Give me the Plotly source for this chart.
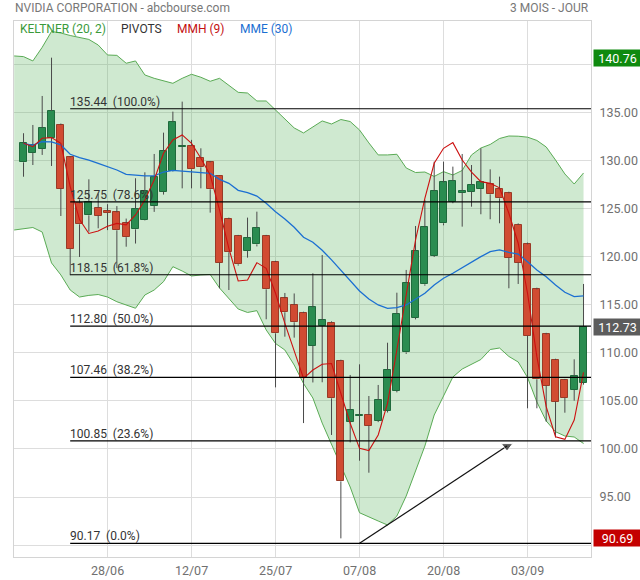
import plotly.graph_objects as go

# ---------------- data ----------------
tick_positions = [9, 18, 27, 36, 45, 54]
tick_labels = ["28/06", "12/07", "25/07", "07/08", "20/08", "03/09"]

opens = [129.86, 130.86, 131.28, 132.43, 133.75, 130.38, 125.59, 124.34, 125.14, 124.75,
         124.65, 123.50, 122.88, 123.82, 125.35, 126.80, 128.95, 131.50, 131.56, 130.31,
         129.86, 128.44, 123.96, 122.19, 120.66, 121.32, 122.19, 119.48, 115.70, 115.00,
         114.17, 110.76, 112.80, 113.16, 109.17, 102.85, 103.47, 103.54, 102.95, 103.96,
         106.07, 110.07, 113.68, 117.16, 120.14, 123.51, 125.73, 126.70, 126.80, 127.08,
         127.57, 127.05, 126.63, 123.33, 121.32, 116.63, 111.94, 109.27, 107.19, 106.15,
         106.90]
highs = [132.89, 133.75, 136.77, 140.76, 133.90, 130.50, 126.00, 128.09, 126.60, 125.50,
         125.30, 124.00, 128.20, 128.82, 130.73, 132.95, 135.14, 136.18, 132.20, 131.32,
         130.00, 128.50, 124.10, 122.30, 124.10, 124.72, 122.30, 119.60, 116.25, 116.20,
         114.30, 118.30, 120.21, 113.30, 109.30, 107.71, 108.82, 105.52, 106.67, 111.07,
         116.28, 118.65, 123.23, 125.94, 129.93, 129.93, 129.41, 130.73, 129.58, 131.32,
         129.13, 128.37, 126.80, 123.50, 121.50, 116.80, 112.10, 109.40, 107.30, 109.34,
         117.19]
lows = [128.36, 129.58, 130.63, 129.48, 124.27, 118.10, 120.00, 122.64, 122.99, 122.80,
        118.85, 121.07, 121.40, 123.78, 124.70, 126.50, 128.90, 127.15, 127.15, 127.15,
        124.62, 116.74, 116.56, 119.10, 119.93, 121.10, 113.51, 106.42, 111.70, 111.60,
        102.70, 106.93, 106.95, 101.46, 90.69, 100.69, 98.78, 97.53, 102.80, 103.80,
        105.90, 109.90, 113.50, 117.00, 120.00, 123.30, 125.60, 123.16, 125.24, 124.45,
        123.93, 123.51, 116.74, 117.19, 104.24, 104.24, 102.85, 101.20, 103.78, 105.03,
        106.70]
closes = [131.91, 131.67, 133.44, 135.21, 127.12, 120.87, 123.40, 125.76, 124.31, 124.60,
          122.78, 122.07, 125.00, 126.88, 128.30, 131.04, 134.05, 131.60, 129.13, 129.34,
          127.05, 119.41, 120.49, 119.24, 122.01, 123.02, 116.63, 112.05, 114.24, 113.20,
          107.36, 114.76, 113.44, 105.28, 96.63, 104.06, 103.50, 102.43, 105.10, 108.23,
          114.06, 117.29, 120.63, 123.09, 126.88, 127.77, 127.92, 126.88, 127.50, 127.85,
          126.53, 126.11, 119.93, 119.41, 111.80, 107.26, 106.60, 104.93, 105.35, 107.60,
          112.73]

# Keltner (20, 2) bands, starting one session before the first visible candle
keltner_start = -1
keltner_upper = [140.94, 140.87, 140.42, 141.84, 143.49, 143.33, 143.07, 142.86, 142.66, 142.08,
                 141.04, 141.00, 140.18, 140.42, 138.96, 138.61, 138.37, 138.09, 138.61, 139.03,
                 138.72, 138.30, 138.61, 137.92, 137.15, 137.08, 136.25, 136.25, 135.31, 134.38,
                 133.44, 132.92, 133.54, 134.17, 133.85, 134.32, 134.11, 133.23, 131.88, 130.63,
                 130.63, 130.70, 129.27, 128.80, 128.85, 128.39, 128.89, 128.54, 129.01, 130.63,
                 131.35, 131.72, 132.34, 132.60, 132.58, 132.48, 132.14, 131.46, 130.10, 128.65,
                 127.60, 128.75]
keltner_lower = [122.81, 122.97, 123.07, 122.60, 119.38, 118.13, 116.56, 115.83, 116.00, 116.09,
                 115.83, 115.34, 114.97, 114.66, 116.04, 116.56, 117.43, 118.99, 118.54, 118.02,
                 118.13, 118.18, 116.77, 115.73, 114.58, 114.22, 114.41, 112.40, 110.99, 110.31,
                 108.75, 106.82, 105.31, 102.70, 100.52, 98.33, 96.04, 93.36, 92.97, 92.50,
                 92.08, 93.02, 95.10, 97.81, 100.31, 103.54, 105.47, 107.50, 108.33, 108.80,
                 109.32, 110.36, 110.52, 109.64, 109.06, 107.45, 104.90, 102.92, 101.80, 101.35,
                 101.25, 100.57]

mmh9 = [131.84, 131.49, 132.36, 132.43, 131.84, 127.33, 123.90, 122.45, 122.70, 123.20,
        123.50, 123.35, 124.38, 125.94, 128.02, 130.80, 132.19, 132.71, 131.84, 130.28,
        128.54, 124.90, 120.90, 117.50, 117.60, 119.41, 118.82, 116.22, 113.09, 110.31,
        107.36, 108.23, 108.82, 108.90, 105.80, 102.68, 100.07, 99.83, 101.46, 104.76,
        110.31, 115.87, 121.77, 126.11, 129.76, 131.32, 131.91, 130.10, 128.85, 127.85,
        127.67, 127.20, 124.55, 121.43, 116.22, 109.62, 104.41, 101.28, 101.00, 103.02,
        107.99]
mme30 = [131.80, 131.65, 132.01, 132.00, 131.67, 130.70, 130.35, 130.10, 129.76, 129.41,
         129.06, 128.61, 128.50, 128.44, 128.44, 128.85, 129.02, 128.96, 128.89, 128.82,
         128.72, 128.09, 127.67, 126.94, 126.70, 126.35, 125.59, 124.72, 123.96, 123.09,
         122.05, 121.53, 120.70, 119.70, 118.65, 117.60, 116.46, 115.63, 115.00, 114.65,
         114.72, 115.00, 115.59, 116.22, 117.08, 117.78, 118.30, 118.89, 119.51, 120.03,
         120.55, 120.73, 120.49, 120.31, 119.51, 118.65, 117.95, 117.08, 116.32, 115.87,
         115.94]

fib_levels = [135.44, 125.75, 118.15, 112.80, 107.46, 100.85, 90.17]
fib_pcts = [100.0, 78.6, 61.8, 50.0, 38.2, 23.6, 0.0]
fib_start = 5

period_high = 140.76
last_price = 112.73
period_low = 90.69

arrow_x = [36, 51.8]
arrow_y = [90.17, 100.3]

grid_values = [90, 95, 100, 105, 110, 115, 120, 125, 130, 135, 140]
grid_labels = ["", "95.00", "100.00", "105.00", "110.00", "115.00", "120.00",
               "125.00", "130.00", "135.00", ""]

# ---------------- styles ----------------
FONT = "Roboto"
FS = 12
X_RANGE = [-1.02, 60.8]
Y_RANGE = [88.75, 144.58]
GREEN_BODY, GREEN_EDGE = "#2a8c50", "#1f6a3c"
RED_BODY, RED_EDGE = "#d14b32", "#9a3a27"
WICK = "#4a4a4a"

idx = list(range(len(opens)))
band_x = list(range(keltner_start, keltner_start + len(keltner_upper)))

fig = go.Figure()

# Keltner band (base subplot, below candles)
fig.add_trace(go.Scatter(x=band_x, y=keltner_lower, mode="lines",
                         line=dict(color="#5aab55", width=1), hoverinfo="skip"))
fig.add_trace(go.Scatter(x=band_x, y=keltner_upper, mode="lines", fill="tonexty",
                         fillcolor="rgba(76,175,80,0.27)",
                         line=dict(color="#5aab55", width=1), hoverinfo="skip"))

# Wicks (only the parts outside the bodies)
wx, wy = [], []
for i, o, h, l, c in zip(idx, opens, highs, lows, closes):
    top, bot = max(o, c), min(o, c)
    if h > top:
        wx += [i, i, None]
        wy += [top, h, None]
    if l < bot:
        wx += [i, i, None]
        wy += [bot, l, None]
fig.add_trace(go.Scatter(x=wx, y=wy, mode="lines", line=dict(color=WICK, width=1),
                         xaxis="x2", yaxis="y2", hoverinfo="skip"))

# Bodies
up = [c >= o for o, c in zip(opens, closes)]
fig.add_trace(go.Bar(
    x=idx, y=[c - o for o, c in zip(opens, closes)], base=opens, width=0.74,
    marker=dict(color=[GREEN_BODY if u else RED_BODY for u in up],
                line=dict(color=[GREEN_EDGE if u else RED_EDGE for u in up], width=1)),
    xaxis="x2", yaxis="y2", hoverinfo="skip"))

# Moving averages
fig.add_trace(go.Scatter(x=idx, y=mme30, mode="lines", line=dict(color="#1b6fd2", width=1.3),
                         xaxis="x2", yaxis="y2", hoverinfo="skip"))
fig.add_trace(go.Scatter(x=idx, y=mmh9, mode="lines", line=dict(color="#cc1010", width=1.1),
                         xaxis="x2", yaxis="y2", hoverinfo="skip"))

# Arrow drawing
fig.add_trace(go.Scatter(x=arrow_x, y=arrow_y, mode="lines+markers",
                         line=dict(color="#111111", width=1.2),
                         marker=dict(symbol="triangle-down", size=[0, 10], color="#111111"),
                         xaxis="x2", yaxis="y2", hoverinfo="skip"))

shapes = []
annotations = []
for lvl, pct in zip(fib_levels, fib_pcts):
    shapes.append(dict(type="line", xref="x", yref="y", x0=fib_start, x1=X_RANGE[1],
                       y0=lvl, y1=lvl, line=dict(color="#000000", width=1.2), layer="above"))
    annotations.append(dict(xref="x", yref="y", x=fib_start, y=lvl, xanchor="left",
                            yanchor="bottom", showarrow=False, borderpad=0, xshift=-1, yshift=-1,
                            text=f"{lvl:.2f}\u00a0\u00a0({pct:.1f}%)",
                            font=dict(family=FONT, size=FS, color="#333333")))

# Right side price boxes
for val, col in [(period_high, "#0f8a0f"), (last_price, "#5c5c5c"), (period_low, "#c40000")]:
    annotations.append(dict(xref="paper", yref="y", x=1, y=val, xanchor="left", yanchor="middle",
                            xshift=2, showarrow=False, text=f"{val:.2f}", bgcolor=col,
                            borderpad=2, width=43, height=12, align="center",
                            font=dict(family=FONT, size=FS + 0.5, color="#ffffff")))

# Header texts
PL, PT, PB, PW, PH = 14, 21, 557, 577, 536


def px(x):
    return (x - PL) / PW


def py(y):
    return (PB - y) / PH


annotations.append(dict(xref="paper", yref="paper", x=px(13), y=py(8), xanchor="left",
                        yanchor="middle", showarrow=False, text="NVIDIA CORPORATION - abcbourse.com",
                        font=dict(family=FONT, size=FS, color="#777777")))
annotations.append(dict(xref="paper", yref="paper", x=px(591), y=py(8), xanchor="right",
                        yanchor="middle", showarrow=False, text="3 MOIS - JOUR",
                        font=dict(family=FONT, size=FS, color="#777777")))
for txt, xpos, col in [("KELTNER (20, 2)", 18, "#3a9a3a"), ("PIVOTS", 119, "#333333"),
                       ("MMH (9)", 175, "#c41010"), ("MME (30)", 238, "#1b6fd2")]:
    annotations.append(dict(xref="paper", yref="paper", x=px(xpos), y=py(29), xanchor="left",
                            yanchor="middle", showarrow=False, text=txt,
                            font=dict(family=FONT, size=FS, color=col)))

fig.update_layout(
    width=640, height=580,
    margin=dict(l=14, r=49, t=21, b=23, autoexpand=False),
    paper_bgcolor="#ffffff", plot_bgcolor="#ffffff",
    showlegend=False, bargap=0,
    shapes=shapes, annotations=annotations,
    xaxis=dict(range=X_RANGE, tickvals=tick_positions, ticktext=tick_labels,
               showgrid=True, gridcolor="#dddddd", gridwidth=1, zeroline=False,
               showline=True, linecolor="#d4d4d4", mirror=True, ticks="",
               ticklabelstandoff=2, automargin=False,
               tickfont=dict(family=FONT, size=FS + 0.5, color="#707070")),
    yaxis=dict(range=Y_RANGE, side="right", tickvals=grid_values, ticktext=grid_labels,
               showgrid=True, gridcolor="#dddddd", gridwidth=1, zeroline=False,
               showline=True, linecolor="#d4d4d4", mirror=True, ticks="",
               ticklabelstandoff=5, automargin=False,
               tickfont=dict(family=FONT, size=FS + 0.5, color="#707070")),
    xaxis2=dict(range=X_RANGE, overlaying="x", anchor="y2", visible=False, automargin=False),
    yaxis2=dict(range=Y_RANGE, overlaying="y", anchor="x2", side="right", visible=False,
                automargin=False),
)

fig.write_html("out.html", config={"displayModeBar": False},
               post_script="document.body.style.margin='0';document.body.style.overflow='hidden';")
